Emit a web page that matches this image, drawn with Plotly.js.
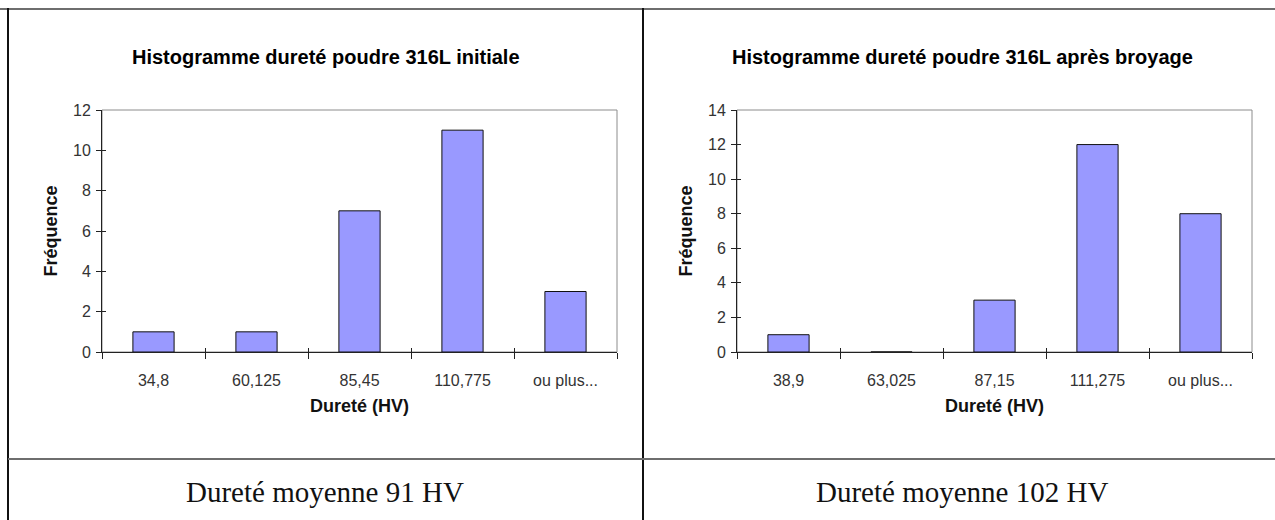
<!DOCTYPE html>
<html>
<head>
<meta charset="utf-8">
<script src="https://cdn.plot.ly/plotly-3.0.1.min.js"></script>
<style>
html,body{margin:0;padding:0;background:#fff;}
#chart{width:1275px;height:520px;}
</style>
</head>
<body>
<div id="chart"></div>
<script>
// Data
const categoriesInitial = ['34,8', '60,125', '85,45', '110,775', 'ou plus...'];
const frequenceInitial = [1, 1, 7, 11, 3];
const categoriesBroyage = ['38,9', '63,025', '87,15', '111,275', 'ou plus...'];
const frequenceBroyage = [1, 0, 3, 12, 8];
const titleInitial = 'Histogramme dureté poudre 316L initiale';
const titleBroyage = 'Histogramme dureté poudre 316L après broyage';
const xTitle = 'Dureté (HV)';
const yTitle = 'Fréquence';
const noteInitial = 'Dureté moyenne 91 HV';
const noteBroyage = 'Dureté moyenne 102 HV';

const W = 1275, H = 520;
const px = v => v / W;
const py = v => 1 - v / H;

const barColor = '#9999FF';
const tickFont = {family: 'Liberation Sans, Arial, sans-serif', size: 16, color: '#333'};
const axTitleFont = {family: 'Liberation Sans, Arial, sans-serif', size: 18, color: '#111', weight: 'bold'};

function barTrace(x, y, xa, ya) {
  return {
    type: 'bar', x: x, y: y, xaxis: xa, yaxis: ya,
    marker: {color: barColor, line: {color: '#111', width: 1}},
    hoverinfo: 'x+y', showlegend: false
  };
}

function xAxis(domain, anchor) {
  return {
    domain: domain, anchor: anchor, type: 'category',
    showgrid: false, zeroline: false, showline: true, linecolor: '#222', linewidth: 1,
    ticks: 'outside', tickson: 'boundaries', ticklen: 6, tickcolor: '#222', tickwidth: 1,
    tickfont: tickFont, ticklabelstandoff: 14,
    title: {text: xTitle, font: axTitleFont, standoff: 11},
    fixedrange: true
  };
}
function yAxis(domain, anchor, max) {
  return {
    domain: domain, anchor: anchor, range: [0, max], dtick: 2, tick0: 0,
    showgrid: false, zeroline: false, showline: true, linecolor: '#222', linewidth: 1,
    ticks: 'outside', ticklen: 5, tickcolor: '#222', tickwidth: 1,
    tickfont: tickFont, ticklabelstandoff: 2,
    title: {text: yTitle, font: axTitleFont, standoff: 10},
    fixedrange: true
  };
}
// inner halves of the crossing tick marks (no labels)
function xCross(over, anchor, n) {
  return {
    overlaying: over, anchor: anchor, type: 'linear', range: [0, n], dtick: 1, tick0: 0,
    ticks: 'inside', ticklen: 4, tickcolor: '#222', tickwidth: 1,
    showticklabels: false, showline: false, showgrid: false, zeroline: false, fixedrange: true
  };
}
function yCross(over, anchor, max) {
  return {
    overlaying: over, anchor: anchor, range: [0, max], dtick: 2, tick0: 0,
    ticks: 'inside', ticklen: 4, tickcolor: '#222', tickwidth: 1,
    showticklabels: false, showline: false, showgrid: false, zeroline: false, fixedrange: true
  };
}

const yDom = [py(352), py(110)];

const data = [
  barTrace(categoriesInitial, frequenceInitial, 'x', 'y'),
  barTrace(categoriesBroyage, frequenceBroyage, 'x2', 'y2'),
  {type: 'scatter', x: [], y: [], xaxis: 'x3', yaxis: 'y3', showlegend: false, hoverinfo: 'skip'},
  {type: 'scatter', x: [], y: [], xaxis: 'x4', yaxis: 'y4', showlegend: false, hoverinfo: 'skip'}
];

const tableLine = (x0, y0, x1, y1, color, width) => ({
  type: 'line', xref: 'paper', yref: 'paper',
  x0: px(x0), y0: py(y0), x1: px(x1), y1: py(y1),
  line: {color: color, width: width}
});

const layout = {
  width: W, height: H,
  margin: {l: 0, r: 0, t: 0, b: 0},
  paper_bgcolor: '#fff', plot_bgcolor: '#fff',
  bargap: 0.6,
  font: {family: 'Liberation Sans, Arial, sans-serif', color: '#222'},
  xaxis: xAxis([px(102), px(617)], 'y'),
  yaxis: yAxis(yDom, 'x', 12),
  xaxis2: xAxis([px(737), px(1252)], 'y2'),
  yaxis2: yAxis(yDom, 'x2', 14),
  xaxis3: xCross('x', 'y', categoriesInitial.length),
  yaxis3: yCross('y', 'x', 12),
  xaxis4: xCross('x2', 'y2', categoriesBroyage.length),
  yaxis4: yCross('y2', 'x2', 14),
  shapes: [
    // plot area frames
    {type: 'rect', xref: 'x domain', yref: 'y domain', x0: 0, x1: 1, y0: 0, y1: 1,
     line: {color: '#8c8c8c', width: 1}, layer: 'below'},
    {type: 'rect', xref: 'x2 domain', yref: 'y2 domain', x0: 0, x1: 1, y0: 0, y1: 1,
     line: {color: '#8c8c8c', width: 1}, layer: 'below'},
    // table borders
    tableLine(0, 9, 1275, 9, '#6e6e6e', 2),
    tableLine(8, 8, 8, 520, '#111', 2),
    tableLine(643, 8, 643, 520, '#111', 2),
    tableLine(8, 459, 1275, 459, '#6e6e6e', 2)
  ],
  annotations: [
    {text: '<b>' + titleInitial + '</b>', xref: 'paper', yref: 'paper', x: px(326), y: py(57),
     xanchor: 'center', yanchor: 'middle', showarrow: false,
     font: {family: 'Liberation Sans, Arial, sans-serif', size: 20, color: '#000'}},
    {text: '<b>' + titleBroyage + '</b>', xref: 'paper', yref: 'paper', x: px(962), y: py(57),
     xanchor: 'center', yanchor: 'middle', showarrow: false,
     font: {family: 'Liberation Sans, Arial, sans-serif', size: 20, color: '#000'}},
    {text: noteInitial, xref: 'paper', yref: 'paper', x: px(325), y: py(492),
     xanchor: 'center', yanchor: 'middle', showarrow: false,
     font: {family: 'Liberation Serif', size: 29, color: '#111'}},
    {text: noteBroyage, xref: 'paper', yref: 'paper', x: px(962), y: py(492),
     xanchor: 'center', yanchor: 'middle', showarrow: false,
     font: {family: 'Liberation Serif', size: 29, color: '#111'}}
  ]
};

Plotly.newPlot('chart', data, layout, {displayModeBar: false, staticPlot: false});
</script>
</body>
</html>
